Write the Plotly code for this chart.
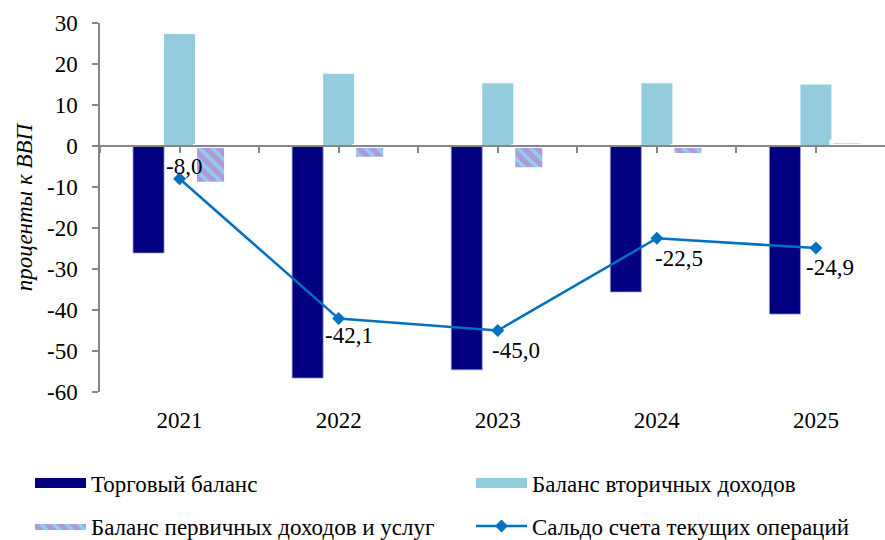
import plotly.graph_objects as go

# ---- data ----
years = [2021, 2022, 2023, 2024, 2025]
year_labels = ["2021", "2022", "2023", "2024", "2025"]
trade_balance = [-26.1, -56.6, -54.6, -35.6, -41.0]
secondary_income = [27.3, 17.6, 15.3, 15.3, 15.0]
primary_income_services = [-9.2, -3.1, -5.7, -2.2, 1.1]
current_account = [-8.0, -42.1, -45.0, -22.5, -24.9]
y_ticks = [30, 20, 10, 0, -10, -20, -30, -40, -50, -60]
y_tick_labels = ["30", "20", "10", "0", "-10", "-20", "-30", "-40", "-50", "-60"]

series_names = [
    "Торговый баланс",
    "Баланс вторичных доходов",
    "Баланс первичных доходов и услуг",
    "Сальдо счета текущих операций",
]

# ---- styles ----
FONT = "'Liberation Serif', 'Times New Roman', Times, serif"
NAVY = "#000080"
LIGHT = "#93CDDD"
PURPLE = "#AF99DA"
STRIPE = "#8ED1E9"
LINE = "#0070C0"
GRAY = "#868686"
label_dx = [4, 10, 18, 22, 14]
label_dy = [12, -17, -20, -20, -19]
# legend slot positions (container pixels): (left, center-y)
legend_slots = [(30, 483), (471, 483), (30, 526), (471, 526)]

fig = go.Figure()

fig.add_trace(go.Bar(x=years, y=trade_balance, name=series_names[0],
                     marker=dict(color=NAVY, line=dict(color="#9a9ad8", width=0.75)),
                     showlegend=False))
fig.add_trace(go.Bar(x=years, y=secondary_income, name=series_names[1],
                     marker=dict(color=LIGHT, line=dict(width=0)),
                     showlegend=False))
fig.add_trace(go.Bar(x=years, y=primary_income_services, name=series_names[2],
                     marker=dict(color=PURPLE, line=dict(color="white", width=4),
                                 pattern=dict(shape="\\", bgcolor=PURPLE, fgcolor=STRIPE,
                                              size=9, solidity=0.4, fillmode="replace")),
                     showlegend=False))
fig.add_trace(go.Scatter(x=years, y=current_account, name=series_names[3],
                         xaxis="x2", yaxis="y",
                         mode="lines+markers",
                         line=dict(color=LINE, width=2.5),
                         marker=dict(symbol="diamond", size=10, color=LINE),
                         showlegend=False))

# legend-only entries (wide swatches), one legend per slot
fig.add_trace(go.Scatter(x=[None], y=[None], mode="lines", name=series_names[0],
                         line=dict(color=NAVY, width=11), legend="legend"))
fig.add_trace(go.Scatter(x=[None], y=[None], mode="lines", name=series_names[1],
                         line=dict(color=LIGHT, width=11), legend="legend2"))
fig.add_trace(go.Scatter(x=[None], y=[None], mode="lines", name=series_names[2],
                         fill="toself", fillcolor=PURPLE,
                         fillpattern=dict(shape="\\", bgcolor=PURPLE, fgcolor=STRIPE,
                                          size=9, solidity=0.4, fillmode="replace"),
                         line=dict(width=0, color=PURPLE), legend="legend3"))
fig.add_trace(go.Scatter(x=[None], y=[None], mode="lines+markers", name=series_names[3],
                         line=dict(color=LINE, width=2.5),
                         marker=dict(symbol="diamond", size=10, color=LINE),
                         legend="legend4"))

for i, (xv, yv) in enumerate(zip(years, current_account)):
    fig.add_annotation(x=xv, y=yv, xref="x2", yref="y",
                       text=f"{yv:.1f}".replace(".", ","), showarrow=False,
                       xanchor="center", yanchor="middle",
                       xshift=label_dx[i], yshift=label_dy[i],
                       font=dict(family=FONT, size=23, color="black"))

half_ticks = [y + d for y in years for d in (-0.5, 0)] + [years[-1] + 0.5]
half_ticks.sort()

W, H = 885, 540


def legend_at(slot):
    lx, ly = slot
    return dict(orientation="h", xref="container", yref="container",
                x=lx / W, xanchor="left", y=1 - ly / H, yanchor="middle",
                itemwidth=51, font=dict(family=FONT, size=23),
                bgcolor="rgba(0,0,0,0)")


fig.update_layout(
    width=W, height=H,
    margin=dict(l=100, r=0, t=23, b=148, autoexpand=False),
    paper_bgcolor="white", plot_bgcolor="white",
    barmode="group", bargap=0.415, bargroupgap=0,
    font=dict(family=FONT, size=23, color="black"),
    xaxis=dict(range=[2020.5, 2025.434], tickvals=years, ticktext=year_labels,
               showline=False, showgrid=False, zeroline=False,
               ticks="outside", ticklen=7, tickcolor="rgba(0,0,0,0)",
               tickfont=dict(family=FONT, size=23)),
    xaxis2=dict(matches="x", overlaying="x", anchor="free", position=2/3,
                tickvals=half_ticks, showticklabels=False,
                ticks="outside", ticklen=6, tickwidth=1.5, tickcolor=GRAY,
                showline=True, linecolor=GRAY, linewidth=1.5,
                showgrid=False, zeroline=False),
    yaxis=dict(range=[-60, 30], tickvals=y_ticks, ticktext=y_tick_labels,
               showgrid=False, zeroline=False,
               showline=True, linecolor=GRAY, linewidth=1.5,
               ticks="outside", ticklen=6, tickwidth=1.5, tickcolor=GRAY,
               ticklabelstandoff=10,
               tickfont=dict(family=FONT, size=23),
               title=dict(text="проценты к ВВП", standoff=8,
                          font=dict(family=FONT, size=23, style="italic"))),
    legend=legend_at(legend_slots[0]),
    legend2=legend_at(legend_slots[1]),
    legend3=legend_at(legend_slots[2]),
    legend4=legend_at(legend_slots[3]),
)

fig.write_html("out.html", config={"displayModeBar": False},
               post_script="document.body.style.margin='0';")
